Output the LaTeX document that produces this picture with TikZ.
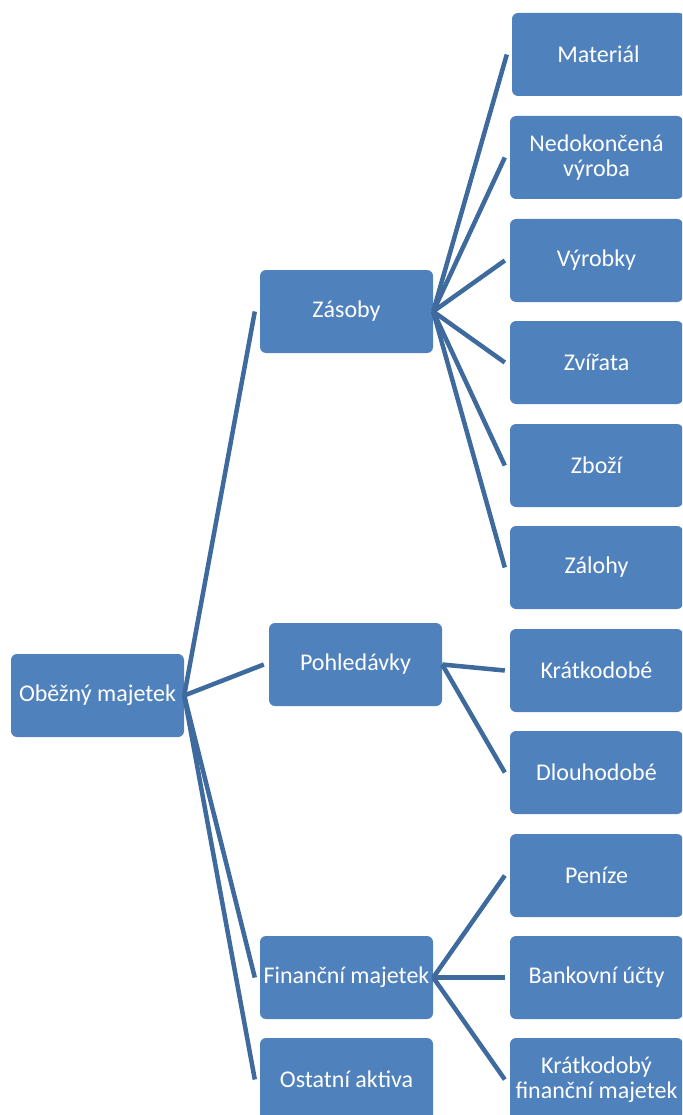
\documentclass[tikz,border=0pt]{standalone}
\usepackage{fontspec}
\setmainfont{Carlito}
\definecolor{boxblue}{RGB}{79,129,189}
\definecolor{linkblue}{RGB}{62,106,158}
\begin{document}
\begin{tikzpicture}[x=1pt,y=-1pt,
  box/.style={fill=boxblue, rounded corners=6pt, minimum width=173pt, minimum height=83pt,
    text=white, align=center, font=\fontsize{24}{25}\selectfont, inner sep=1pt},
  link/.style={draw=linkblue, line width=4.5pt}]
\useasboundingbox (0,0) rectangle (682,1115);
\clip (0,0) rectangle (682,1115);
% level 0
\node[box] (root) at (97.5,695.5) {Oběžný majetek};
% level 1
\node[box] (zas) at (346.5,311.5) {Zásoby};
\node[box] (poh) at (355.5,664.5) {Pohledávky};
\node[box] (fin) at (346.5,977.5) {Finanční majetek};
\node[box] (ost) at (346.5,1079.5) {Ostatní aktiva};
% level 2
\node[box] (mat) at (598.5,54.5) {Materiál};
\node[box] (ned) at (596.5,157.5) {Nedokončená\\výroba};
\node[box] (vyr) at (596.5,260.5) {Výrobky};
\node[box] (zvi) at (596.5,362.5) {Zvířata};
\node[box] (zbo) at (596.5,465.5) {Zboží};
\node[box] (zal) at (596.5,567.5) {Zálohy};
\node[box] (kra) at (596.5,670.5) {Krátkodobé};
\node[box] (dlo) at (596.5,772.5) {Dlouhodobé};
\node[box] (pen) at (596.5,875.5) {Peníze};
\node[box] (ban) at (596.5,977.5) {Bankovní účty};
\node[box] (kfm) at (596.5,1079.5) {Krátkodobý\\finanční majetek};
% connectors
\foreach \c in {zas,poh,fin,ost}
  \draw[link] (root.east) -- ([xshift=-5pt]\c.west);
\foreach \c in {mat,ned,vyr,zvi,zbo,zal}
  \draw[link] (zas.east) -- ([xshift=-5pt]\c.west);
\foreach \c in {kra,dlo}
  \draw[link] (poh.east) -- ([xshift=-5pt]\c.west);
\foreach \c in {pen,ban,kfm}
  \draw[link] (fin.east) -- ([xshift=-5pt]\c.west);
\end{tikzpicture}
\end{document}
